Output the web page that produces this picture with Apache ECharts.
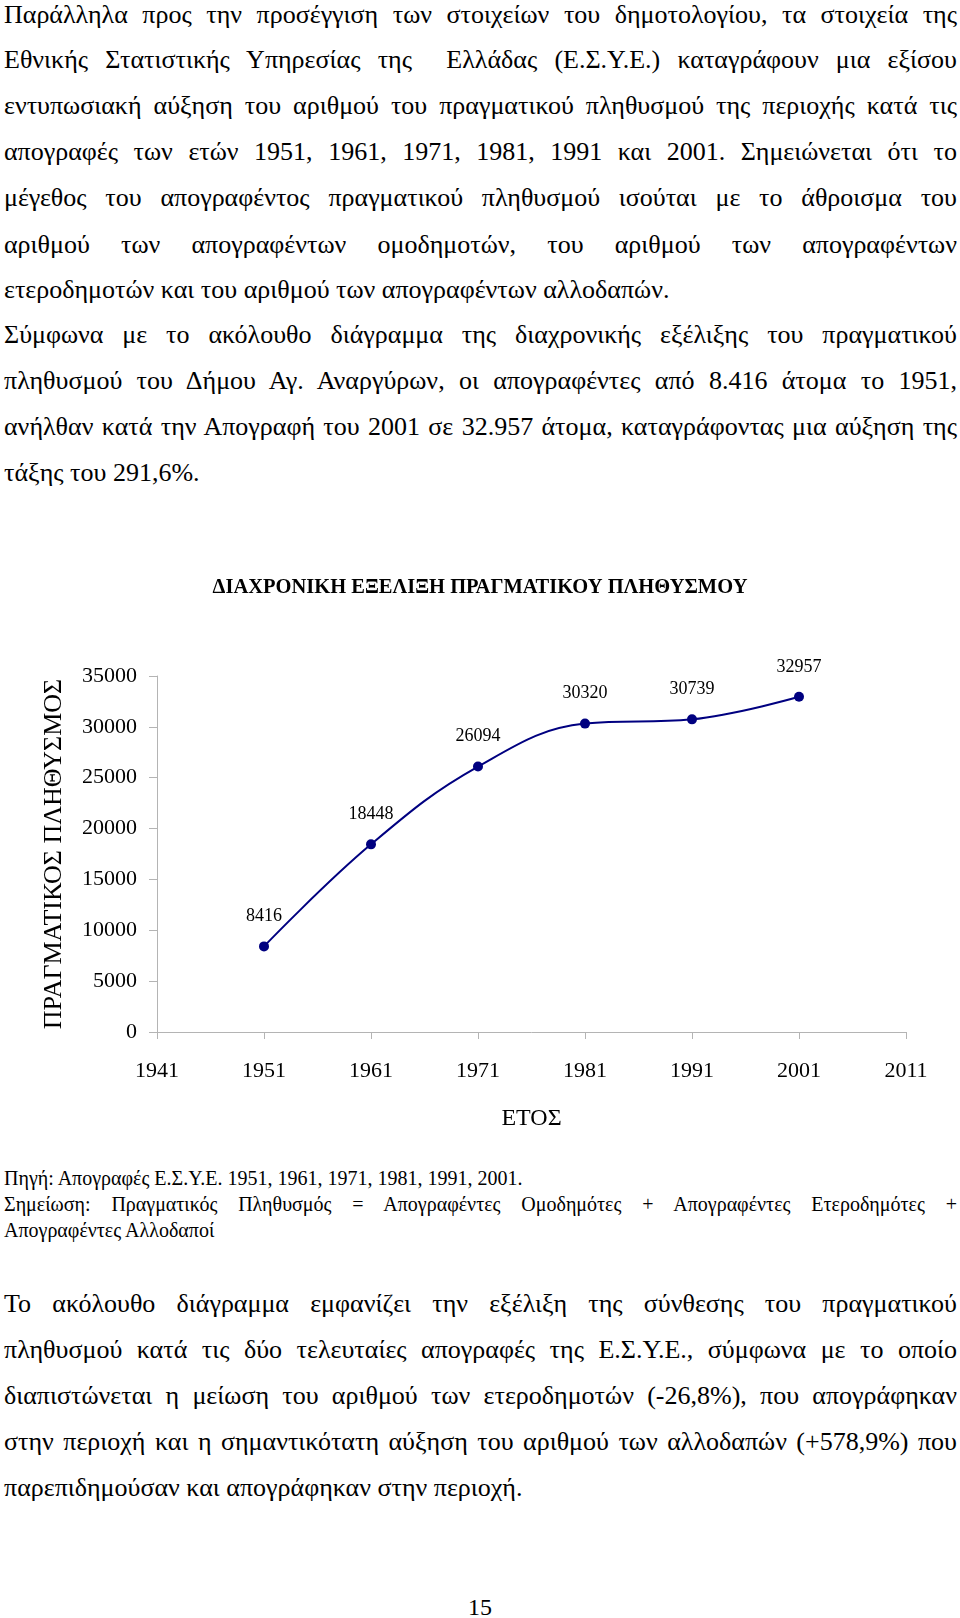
<!DOCTYPE html>
<html>
<head>
<meta charset="utf-8">
<script src="https://cdn.jsdelivr.net/npm/echarts@6/dist/echarts.min.js"></script>
<style>
  html, body { margin: 0; padding: 0; background: #fff; }
  body { width: 960px; height: 1618px; position: relative; overflow: hidden;
         font-family: "Liberation Serif", "Times New Roman", serif; color: #000; }
  .ln { position: absolute; left: 4px; width: 953px; font-size: 26px; line-height: 30px;
        white-space: nowrap; }
  .j { text-align: justify; text-align-last: justify; }
  .sm { font-size: 20px; line-height: 24px; }
  #chart { position: absolute; left: 0; top: 540px; width: 960px; height: 600px; }
  #pg { position: absolute; left: 0; width: 960px; text-align: center; font-size: 24px; line-height: 28px; top: 1593px; }
</style>
</head>
<body>
<div class="ln j" style="top:0px">Παράλληλα προς την προσέγγιση των στοιχείων του δημοτολογίου, τα στοιχεία της</div>
<div class="ln j" style="top:45px">Εθνικής Στατιστικής Υπηρεσίας της &nbsp;Ελλάδας (Ε.Σ.Υ.Ε.) καταγράφουν μια εξίσου</div>
<div class="ln j" style="top:91px">εντυπωσιακή αύξηση του αριθμού του πραγματικού πληθυσμού της περιοχής κατά τις</div>
<div class="ln j" style="top:137px">απογραφές των ετών 1951, 1961, 1971, 1981, 1991 και 2001. Σημειώνεται ότι το</div>
<div class="ln j" style="top:183px">μέγεθος του απογραφέντος πραγματικού πληθυσμού ισούται με το άθροισμα του</div>
<div class="ln j" style="top:230px">αριθμού των απογραφέντων ομοδημοτών, του αριθμού των απογραφέντων</div>
<div class="ln" style="top:275px">ετεροδημοτών και του αριθμού των απογραφέντων αλλοδαπών.</div>
<div class="ln j" style="top:320px">Σύμφωνα με το ακόλουθο διάγραμμα της διαχρονικής εξέλιξης του πραγματικού</div>
<div class="ln j" style="top:366px">πληθυσμού του Δήμου Αγ. Αναργύρων, οι απογραφέντες από 8.416 άτομα το 1951,</div>
<div class="ln j" style="top:412px">ανήλθαν κατά την Απογραφή του 2001 σε 32.957 άτομα, καταγράφοντας μια αύξηση της</div>
<div class="ln" style="top:458px">τάξης του 291,6%.</div>

<div id="chart"></div>

<div class="ln sm" style="top:1166px">Πηγή: Απογραφές Ε.Σ.Υ.Ε. 1951, 1961, 1971, 1981, 1991, 2001.</div>
<div class="ln sm j" style="top:1192px">Σημείωση: Πραγματικός Πληθυσμός = Απογραφέντες Ομοδημότες + Απογραφέντες Ετεροδημότες +</div>
<div class="ln sm" style="top:1218px">Απογραφέντες Αλλοδαποί</div>

<div class="ln j" style="top:1289px">Το ακόλουθο διάγραμμα εμφανίζει την εξέλιξη της σύνθεσης του πραγματικού</div>
<div class="ln j" style="top:1335px">πληθυσμού κατά τις δύο τελευταίες απογραφές της Ε.Σ.Υ.Ε., σύμφωνα με το οποίο</div>
<div class="ln j" style="top:1381px">διαπιστώνεται η μείωση του αριθμού των ετεροδημοτών (-26,8%), που απογράφηκαν</div>
<div class="ln j" style="top:1427px">στην περιοχή και η σημαντικότατη αύξηση του αριθμού των αλλοδαπών (+578,9%) που</div>
<div class="ln" style="top:1473px">παρεπιδημούσαν και απογράφηκαν στην περιοχή.</div>

<div id="pg">15</div>

<script>
// Data
const years = ['1941', '1951', '1961', '1971', '1981', '1991', '2001', '2011'];
const population = [null, 8416, 18448, 26094, 30320, 30739, 32957, null];
const chartTitle = 'ΔΙΑΧΡΟΝΙΚΗ ΕΞΕΛΙΞΗ ΠΡΑΓΜΑΤΙΚΟΥ ΠΛΗΘΥΣΜΟΥ';
const yAxisTitle = 'ΠΡΑΓΜΑΤΙΚΟΣ ΠΛΗΘΥΣΜΟΣ';
const xAxisTitle = 'ΕΤΟΣ';

// shrink word spacing on lines that would overflow their box
document.querySelectorAll('.ln').forEach(function (el) {
  let ws = 0;
  while (el.scrollWidth > el.clientWidth + 1 && ws > -8) {
    ws -= 0.5;
    el.style.wordSpacing = ws + 'px';
  }
  let ls = 0;
  while (el.scrollWidth > el.clientWidth + 1 && ls > -1.5) {
    ls -= 0.1;
    el.style.letterSpacing = ls.toFixed(2) + 'px';
  }
});

const FONT = '"Liberation Serif", "Times New Roman", serif';
const axisGray = '#b4b4b4';
const chart = echarts.init(document.getElementById('chart'), null, { renderer: 'canvas' });
chart.setOption({
  animation: false,
  backgroundColor: '#ffffff',
  title: {
    text: chartTitle,
    left: 'center',
    top: 32,
    textStyle: { fontFamily: FONT, fontSize: 20.5, fontWeight: 'bold', color: '#000' }
  },
  grid: { left: 157, right: 54, top: 136, bottom: 108, containLabel: false, outerBoundsMode: 'none' },
  xAxis: {
    type: 'category',
    data: years,
    boundaryGap: false,
    name: xAxisTitle,
    nameLocation: 'middle',
    nameGap: 75,
    nameTextStyle: { fontFamily: FONT, fontSize: 24, color: '#000' },
    axisLine: { lineStyle: { color: axisGray, width: 1 } },
    axisTick: { show: true, length: 7, lineStyle: { color: axisGray } },
    axisLabel: { fontFamily: FONT, fontSize: 22, color: '#000', margin: 28, interval: 0 },
    splitLine: { show: false }
  },
  yAxis: {
    type: 'value',
    min: 0,
    max: 35000,
    interval: 5000,
    name: yAxisTitle,
    nameLocation: 'middle',
    nameGap: 90,
    nameTextStyle: { fontFamily: FONT, fontSize: 26, color: '#000' },
    axisLine: { show: true, lineStyle: { color: axisGray, width: 1 } },
    axisTick: { show: true, length: 8, lineStyle: { color: axisGray } },
    axisLabel: { fontFamily: FONT, fontSize: 22, color: '#000', margin: 20,
                 formatter: function (v) { return String(v); } },
    splitLine: { show: false }
  },
  series: [{
    type: 'line',
    data: population,
    smooth: 0.4,
    symbol: 'circle',
    symbolSize: 10,
    connectNulls: false,
    lineStyle: { color: '#000080', width: 2 },
    itemStyle: { color: '#000080' },
    label: {
      show: true,
      position: 'top',
      distance: 16,
      fontFamily: FONT,
      fontSize: 18,
      color: '#000'
    }
  }]
});
</script>
</body>
</html>
